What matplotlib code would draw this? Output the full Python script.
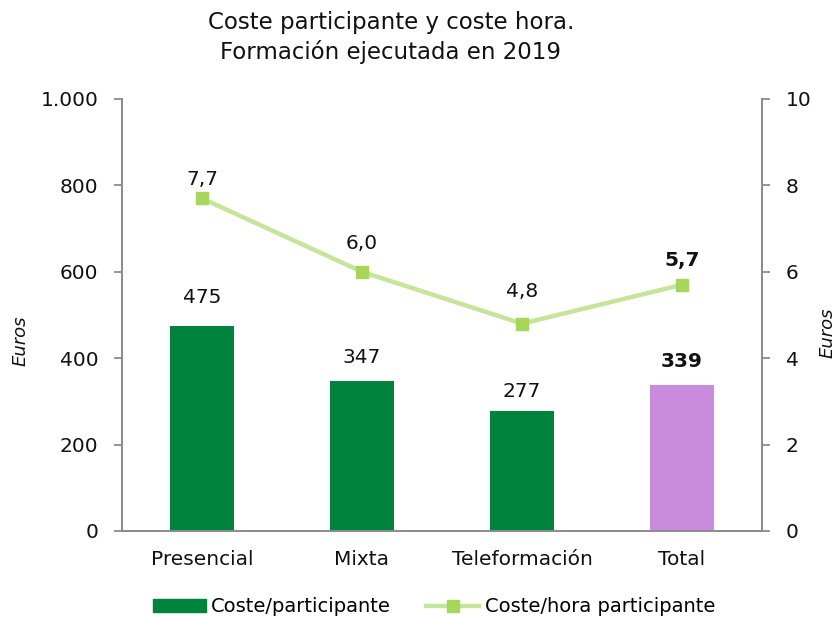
import matplotlib
matplotlib.use("Agg")
import matplotlib.pyplot as plt
from matplotlib.patches import Patch
from matplotlib.lines import Line2D

categories = ["Presencial", "Mixta", "Teleformación", "Total"]
coste_participante = [475, 347, 277, 339]
coste_hora = [7.7, 6.0, 4.8, 5.7]
bar_labels = ["475", "347", "277", "339"]
line_labels = ["7,7", "6,0", "4,8", "5,7"]
left_ticks = [0, 200, 400, 600, 800, 1000]
left_ticklabels = ["0", "200", "400", "600", "800", "1.000"]
right_ticks = [0, 2, 4, 6, 8, 10]

# label offsets (pixels above the mark, to label centre)
bar_label_offsets = [28, 24, 20, 23]
line_label_offsets = [19, 28, 32, 24]

plt.rcParams['font.family'] = ['DejaVu Sans']

fig = plt.figure(figsize=(8.39, 6.18), dpi=100)
ax = fig.add_axes([122/839, 1-531/618, 640/839, 432/618])
ax2 = ax.twinx()

x = list(range(len(categories)))
bar_colors = ["#00843D", "#00843D", "#00843D", "#C98BDB"]
ax.bar(x, coste_participante, width=0.4, color=bar_colors, zorder=2)
ax.set_xlim(-0.5, 3.5)
ax.set_ylim(0, 1000)
ax.set_yticks(left_ticks)
ax.set_yticklabels(left_ticklabels)
ax.set_xticks(x)
ax.set_xticklabels(categories)

txt = "#111111"
for i, (v, lab) in enumerate(zip(coste_participante, bar_labels)):
    ax.annotate(lab, (i, v), xytext=(0, bar_label_offsets[i]),
                textcoords="offset pixels", ha="center", va="center",
                fontsize=14.5, fontweight="bold" if i == 3 else "normal",
                color=txt)

ax2.plot(x, coste_hora, color="#C4E59A", lw=3.2, marker="s", ms=8.5,
         mfc="#A6D65A", mec="#A6D65A", zorder=3)
ax2.set_ylim(0, 10)
ax2.set_yticks(right_ticks)
for i, (v, lab) in enumerate(zip(coste_hora, line_labels)):
    ax2.annotate(lab, (i, v), xytext=(0, line_label_offsets[i]),
                 textcoords="offset pixels", ha="center", va="center",
                 fontsize=14.5, fontweight="bold" if i == 3 else "normal",
                 color=txt)

grey = "#8C8C8C"
for a in (ax, ax2):
    a.spines["top"].set_visible(False)
    for s in ("left", "right", "bottom"):
        a.spines[s].set_color(grey)
        a.spines[s].set_linewidth(1.3)
    a.tick_params(axis="y", colors=grey, labelcolor=txt, labelsize=14.5,
                  length=6, width=1.3, direction="out", pad=11)
ax.tick_params(axis="x", length=0, labelsize=14.5, labelcolor=txt, pad=14)

ax.set_ylabel("Euros", fontstyle="italic", fontsize=13, color=txt)
ax2.set_ylabel("Euros", fontstyle="italic", fontsize=13, color=txt)
ax.yaxis.set_label_coords(-(122 - 30) / 640, 0.44)
ax2.yaxis.set_label_coords((819 - 122) / 640, 0.46)

fig.text(391/839, 1-22/618, "Coste participante y coste hora.", ha="center",
         va="center", fontsize=16.5, color=txt)
fig.text(391/839, 1-52/618, "Formación ejecutada en 2019", ha="center",
         va="center", fontsize=16.5, color=txt)

handles = [Patch(color="#00843D"),
           Line2D([0], [0], color="#C4E59A", lw=3.2, marker="s", ms=8.5,
                  mfc="#A6D65A", mec="#A6D65A")]
fig.legend(handles, ["Coste/participante", "Coste/hora participante"],
           loc="center", bbox_to_anchor=(434/839, 1-607/618), ncol=2,
           frameon=False, fontsize=14, handlelength=2.7, columnspacing=1.8,
           handletextpad=0.3, handleheight=0.6)

fig.savefig("out.png", dpi=100)
